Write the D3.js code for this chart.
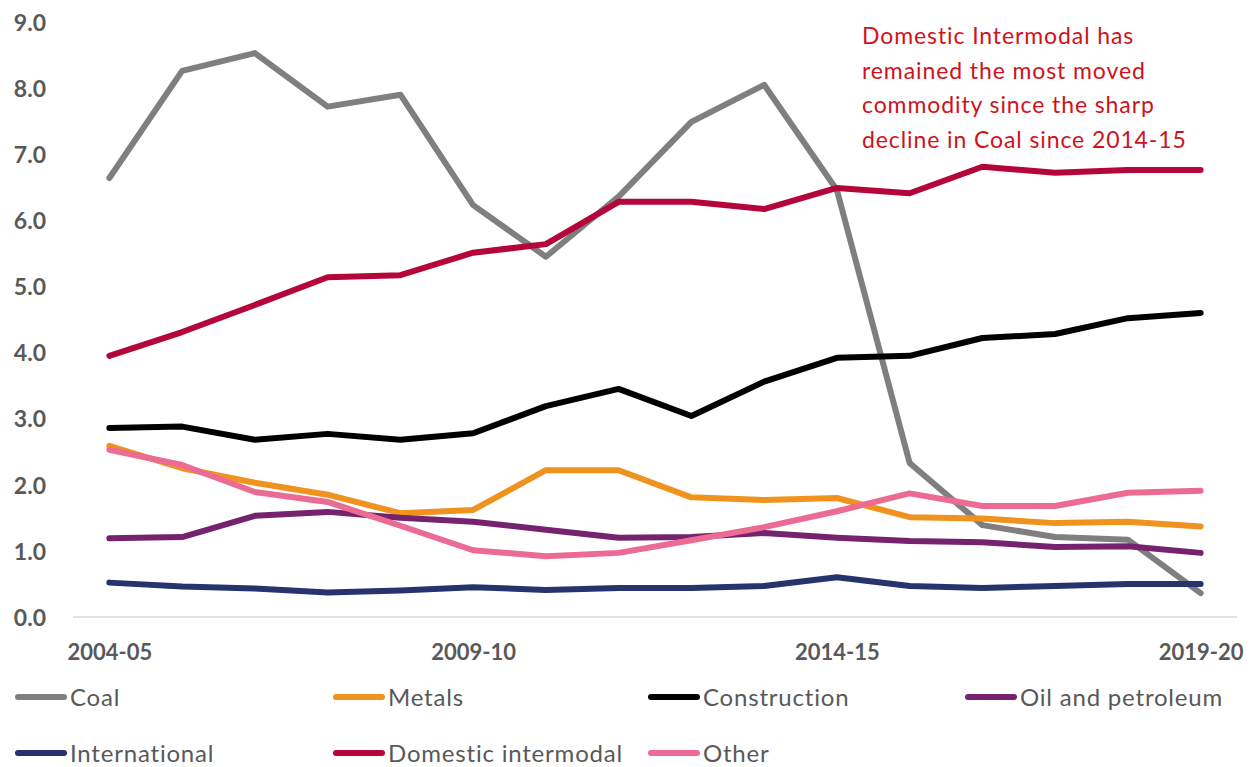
<!DOCTYPE html>
<html>
<head>
<meta charset="utf-8">
<script src="https://cdn.jsdelivr.net/npm/d3@7"></script>
<style>
  html, body { margin: 0; padding: 0; background: #fff; }
  svg { display: block; }
  text { font-variant-ligatures: none; }
</style>
</head>
<body>
<svg id="chart" width="1258" height="767"></svg>
<script>
const categories = ["2004-05","2005-06","2006-07","2007-08","2008-09","2009-10","2010-11","2011-12","2012-13","2013-14","2014-15","2015-16","2016-17","2017-18","2018-19","2019-20"];
const tickLabels = ["2004-05","2009-10","2014-15","2019-20"];
const yTicks = [0,1,2,3,4,5,6,7,8,9];

const coal         = [6.64,8.26,8.53,7.72,7.90,6.23,5.45,6.36,7.49,8.05,6.46,2.33,1.39,1.21,1.17,0.36];
const metals       = [2.59,2.25,2.03,1.85,1.57,1.62,2.22,2.22,1.81,1.77,1.80,1.51,1.49,1.42,1.44,1.37];
const construction = [2.86,2.88,2.68,2.77,2.68,2.78,3.19,3.45,3.04,3.56,3.92,3.95,4.22,4.28,4.52,4.60];
const oilPetroleum = [1.19,1.21,1.53,1.59,1.50,1.44,1.32,1.20,1.21,1.27,1.20,1.15,1.13,1.06,1.07,0.97];
const international= [0.52,0.46,0.43,0.37,0.40,0.45,0.41,0.44,0.44,0.47,0.60,0.47,0.44,0.47,0.50,0.50];
const domestic     = [3.95,4.31,4.72,5.14,5.17,5.51,5.64,6.28,6.28,6.17,6.49,6.41,6.81,6.72,6.76,6.76];
const other        = [2.53,2.30,1.89,1.74,1.38,1.01,0.92,0.97,1.16,1.36,1.60,1.87,1.68,1.68,1.88,1.91];

const seriesNames = ["Coal","Metals","Construction","Oil and petroleum","International","Domestic intermodal","Other"];
const seriesValues = [coal, metals, construction, oilPetroleum, international, domestic, other];
const seriesColors = ["#7f7f7f","#f0931e","#000000","#76236f","#26336d","#b4063b","#ec6b93"];

const annotationLines = ["Domestic Intermodal has","remained the most moved","commodity since the sharp","decline in Coal since 2014-15"];

const svg = d3.select("#chart");
const plotLeft = 73, plotRight = 1237, plotTop = 22, plotBottom = 617;

const x = d3.scalePoint().domain(categories).range([plotLeft, plotRight]).padding(0.5);
const y = d3.scaleLinear().domain([0, 9]).range([plotBottom, plotTop]);

const font = "Lato, 'Noto Sans', sans-serif";

// y axis labels
const yAxis = d3.axisLeft(y).tickValues(yTicks).tickFormat(d3.format(".1f")).tickSize(0).tickPadding(0);
const yg = svg.append("g").attr("transform", "translate(46,0)").call(yAxis);
yg.select(".domain").remove();
yg.selectAll("text").attr("font-family", font).attr("font-weight", "bold").attr("font-size", 23).attr("fill", "#595959").attr("dy", "0.36em");

// x axis baseline
svg.append("line").attr("x1", plotLeft).attr("x2", plotRight).attr("y1", y(0)).attr("y2", y(0))
  .attr("stroke", "#d9d9d9").attr("stroke-width", 1.5);

// x axis labels
const xAxis = d3.axisBottom(x).tickValues(tickLabels).tickSize(0).tickPadding(0);
const xg = svg.append("g").attr("transform", `translate(0,${y(0)+27})`).call(xAxis);
xg.select(".domain").remove();
xg.selectAll("text").attr("font-family", font).attr("font-weight", "bold").attr("font-size", 22).attr("fill", "#595959");

// lines
const line = d3.line().x((d, i) => x(categories[i])).y(d => y(d));
svg.append("g").selectAll("path").data(seriesValues).join("path")
  .attr("d", d => line(d))
  .attr("fill", "none")
  .attr("stroke", (d, i) => seriesColors[i])
  .attr("stroke-width", 6)
  .attr("stroke-linejoin", "round")
  .attr("stroke-linecap", "round");

// annotation
const ann = svg.append("text").attr("font-family", font).attr("font-size", 23)
  .attr("letter-spacing", 0.9).attr("fill", "#d0121b");
ann.selectAll("tspan").data(annotationLines).join("tspan")
  .attr("x", 862).attr("y", (d, i) => 44 + i * 34.5).text(d => d);

// legend
const legendCols = [15, 333, 648, 965];
const legendRows = [697, 753];
const lg = svg.append("g");
seriesNames.forEach((name, i) => {
  const cx = legendCols[i % 4], cy = legendRows[Math.floor(i / 4)];
  lg.append("line").attr("x1", cx + 3).attr("x2", cx + 49).attr("y1", cy).attr("y2", cy)
    .attr("stroke", seriesColors[i]).attr("stroke-width", 6).attr("stroke-linecap", "round");
  lg.append("text").attr("x", cx + 55).attr("y", cy).attr("dy", "0.36em")
    .attr("font-family", font).attr("font-size", 24).attr("letter-spacing", 0.8)
    .attr("fill", "#595959").text(name);
});
</script>
</body>
</html>
